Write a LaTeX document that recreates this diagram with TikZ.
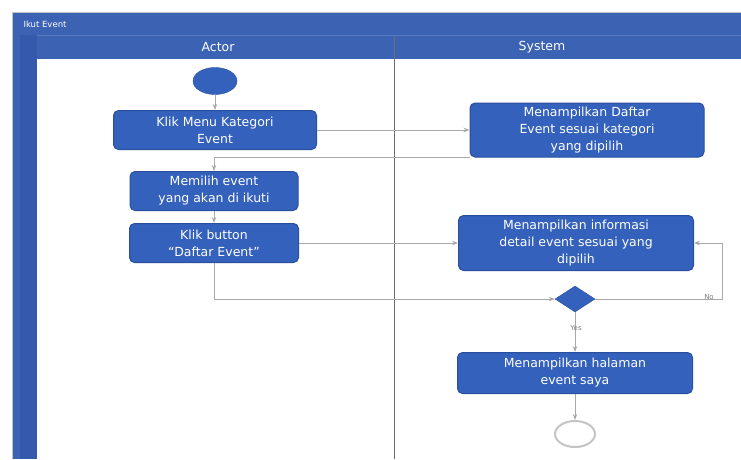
\documentclass[tikz,border=0pt]{standalone}
\usepackage{fontspec}
\setmainfont{DejaVu Sans}
\usetikzlibrary{arrows.meta,shapes.geometric}
\definecolor{bandblue}{HTML}{3B62B3}
\definecolor{stripblue}{HTML}{3459AD}
\definecolor{actfill}{HTML}{3461BB}
\definecolor{actdraw}{HTML}{28509E}
\definecolor{flowgray}{HTML}{A8A8A8}
\definecolor{framegray}{HTML}{C4C4C4}
\definecolor{divgray}{HTML}{6E6E6E}
\tikzset{
  actbox/.style={draw=actdraw, line width=1pt, fill=actfill, rounded corners=5pt,
    text=white, align=center, inner sep=2pt,
    font=\fontsize{12.5}{17}\selectfont},
  flow/.style={draw=flowgray, line width=1pt, -{Stealth[length=6pt,width=4.5pt]}},
  lanehead/.style={text=white, font=\fontsize{12.5}{15}\selectfont},
  guardlbl/.style={text=gray, font=\fontsize{7}{8}\selectfont, inner sep=1pt}
}
\begin{document}
\begin{tikzpicture}[x=1pt,y=-1pt]
\useasboundingbox (0,0) rectangle (741,459);
% swimlane frame
\fill[white] (0,0) rectangle (741,459);
\fill[bandblue] (13,13) rectangle (741,459);
\fill[stripblue] (20,35) rectangle (37,459);
\fill[white] (37,59) rectangle (741,459);
\draw[framegray, line width=1.5pt] (12.5,459) -- (12.5,12.5) -- (741,12.5);
\draw[white, opacity=0.15, line width=0.8pt] (37,35) -- (741,35);
\draw[divgray, line width=1pt] (394,37) -- (394,459);
\node[text=white, anchor=west, font=\fontsize{8.5}{10}\selectfont] (pool) at (20,24) {Ikut Event};
\node[lanehead] (actor) at (218,47) {Actor};
\node[lanehead] (system) at (542,47) {System};

% actor lane
\node[ellipse, fill=actfill, draw=actdraw, minimum width=44pt, minimum height=27pt, inner sep=0pt] (start) at (215,81) {};
\node[actbox, minimum width=203pt, minimum height=39pt] (a1) at (215,130) {Klik Menu Kategori\\Event};
\node[actbox, minimum width=168pt, minimum height=39pt] (a2) at (214,191) {Memilih event\\yang akan di ikuti};
\node[actbox, minimum width=169pt, minimum height=39pt] (a3) at (214,243) {Klik button\\``Daftar Event''};

% system lane
\node[actbox, minimum width=234pt, minimum height=54pt] (s1) at (587,130) {Menampilkan Daftar\\Event sesuai kategori\\yang dipilih};
\node[actbox, minimum width=235pt, minimum height=55pt] (s2) at (576,243) {Menampilkan informasi\\detail event sesuai yang\\dipilih};
\node[diamond, fill=actfill, draw=actdraw, minimum width=40pt, minimum height=26pt, inner sep=0pt] (dec) at (575,299) {};
\node[actbox, minimum width=235pt, minimum height=41pt] (s3) at (575,373) {Menampilkan halaman\\event saya};
\node[ellipse, draw=framegray, line width=2pt, fill=white, minimum width=40pt, minimum height=26pt, inner sep=0pt] (end) at (575,434) {};

% flows
\draw[flow] (start) -- (a1);
\draw[flow] (a1) -- (a1 -| s1.west);
\draw[flow] (s1.south west) -| (a2.north);
\draw[flow] (a2) -- (a3);
\draw[flow] (a3) -- (a3 -| s2.west);
\draw[flow] (a3.south) |- (dec.west);
\coordinate (noturn) at (722,299);
\draw[flow] (dec.east) -- (noturn) |- (s2.east);
\node[guardlbl] (nolbl) at (709,297) {No};
\draw[flow] (dec.south) -- (s3.north);
\node[guardlbl] (yeslbl) at (576,328) {Yes};
\draw[flow] (s3) -- (end);
\end{tikzpicture}
\end{document}
